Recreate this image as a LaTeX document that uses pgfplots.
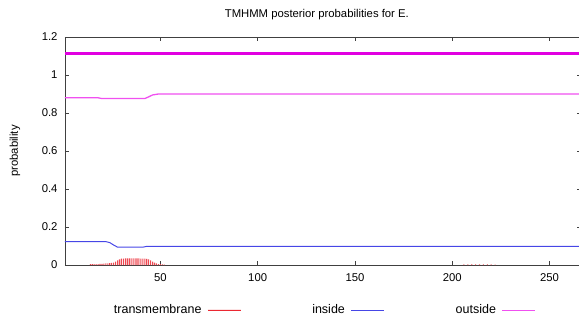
\documentclass[border=0pt]{standalone}
\usepackage{fontspec}
\setmainfont{Liberation Sans}
\usepackage{pgfplots}
\pgfplotsset{compat=1.18}
\definecolor{tmred}{RGB}{235,40,50}
\definecolor{inblue}{RGB}{70,70,230}
\definecolor{outmag}{RGB}{240,80,240}
\definecolor{topmag}{RGB}{225,0,225}
\begin{document}
\begin{tikzpicture}
\useasboundingbox (-65pt,-57pt) rectangle (514pt,265pt);
\begin{axis}[
  at={(0,0)}, anchor=south west,
  scale only axis, width=515.7pt, height=228pt,
  xmin=1, xmax=266, ymin=0, ymax=1.2,
  xtick={50,100,150,200,250},
  ytick={0,0.2,0.4,0.6,0.8,1,1.2},
  yticklabels={0,0.2,0.4,0.6,0.8,1,1.2},
  tick align=inside,
  major tick length=4pt,
  axis line style={black!75, line width=0.6pt},
  tick style={black!75, line width=0.6pt},
  font=\fontsize{11.3}{13}\selectfont,
  /pgf/number format/assume math mode=true,
  xticklabel style={yshift=-5pt},
  yticklabel style={xshift=-4pt},
  every axis y label/.style={at={(axis description cs:0,0.5)}, xshift=-50pt, rotate=90, anchor=center},
  ylabel={probability},
  every axis title/.style={at={(axis description cs:0.5,1)}, anchor=center, yshift=22pt, xshift=-6pt},
  title={TMHMM posterior probabilities for E.},
  legend columns=3,
  legend plot pos=right,
  legend style={draw=none, fill=none, at={(axis description cs:0.502,-0.197)}, anchor=center,
    font=\fontsize{12.5}{14}\selectfont,
    /tikz/every odd column/.append style={column sep=4pt},
    /tikz/every even column/.append style={column sep=69pt}},
  clip=true,
]
\addplot[ybar, bar width=0.55, fill=tmred!85, draw=none, mark=none,
  legend image code/.code={\draw[tmred, line width=0.8pt] (0pt,0pt) -- (33pt,0pt);}] coordinates {
(14,0.004) (15,0.004) (16,0.005) (17,0.005) (18,0.005) (19,0.006) (20,0.006)
(21,0.007) (22,0.008) (23,0.009) (24,0.010) (25,0.011) (26,0.013) (27,0.018)
(28,0.025) (29,0.030) (30,0.033) (31,0.034) (32,0.035) (33,0.035) (34,0.035)
(35,0.035) (36,0.035) (37,0.035) (38,0.035) (39,0.035) (40,0.034) (41,0.034)
(42,0.033) (43,0.032) (44,0.030) (45,0.025) (46,0.018) (47,0.012) (48,0.008)
(49,0.005) (50,0.004) (51,0.003) (52,0.002)
(206,0.003) (208,0.003) (210,0.003) (212,0.003) (214,0.003) (216,0.003) (218,0.003) (220,0.003) (222,0.002)
};
\addlegendentry{transmembrane}
\addplot[inblue, line width=1pt, mark=none,
  legend image code/.code={\draw[inblue, line width=0.8pt] (0pt,0pt) -- (33pt,0pt);}] coordinates {
(1,0.123) (22,0.123) (24,0.118) (26,0.105) (28,0.094) (41,0.094) (43,0.098) (266,0.098)
};
\addlegendentry{inside}
\addplot[outmag, line width=1.3pt, mark=none,
  legend image code/.code={\draw[outmag, line width=0.8pt] (0pt,0pt) -- (33pt,0pt);}] coordinates {
(1,0.88) (18,0.88) (20,0.876) (42,0.876) (44,0.885) (46,0.895) (49,0.9) (266,0.9)
};
\addlegendentry{outside}
\addplot[topmag, line width=2.6pt, mark=none, forget plot] coordinates {
(1,1.113) (266,1.113)
};
\end{axis}
\end{tikzpicture}
\end{document}
